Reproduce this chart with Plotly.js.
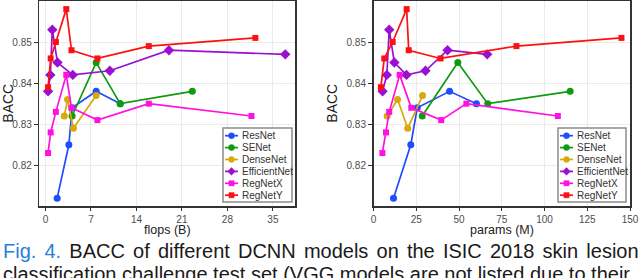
<!DOCTYPE html>
<html>
<head>
<meta charset="utf-8">
<script src="https://cdn.plot.ly/plotly-3.0.1.min.js"></script>
<style>
html,body{margin:0;padding:0;background:#fff;}
#chart{width:640px;height:278px;}
</style>
</head>
<body>
<div id="chart"></div>
<script>
// ---- data ----
const seriesNames = ["ResNet", "SENet", "DenseNet", "EfficientNet", "RegNetX", "RegNetY"];

const resnetFlops  = [1.8, 3.6, 4.1, 7.8, 11.5];
const resnetParams = [11.7, 21.8, 25.6, 44.5, 60.2];
const resnetBacc   = [0.812, 0.825, 0.834, 0.838, 0.835];

const senetFlops  = [4.1, 7.8, 11.5, 22.6];
const senetParams = [28.5, 49.3, 66.8, 115.0];
const senetBacc   = [0.832, 0.845, 0.835, 0.838];

const densenetFlops  = [2.9, 3.4, 4.3, 7.8];
const densenetParams = [8.0, 14.1, 20.0, 28.7];
const densenetBacc   = [0.832, 0.836, 0.829, 0.837];

const effnetFlops  = [0.4, 0.75, 1.05, 1.85, 4.2, 9.9, 19.0, 36.9];
const effnetParams = [5.3, 7.8, 9.2, 12.2, 19.3, 30.4, 43.3, 66.5];
const effnetBacc   = [0.838, 0.842, 0.853, 0.845, 0.842, 0.843, 0.848, 0.847];

const regnetxFlops  = [0.4, 0.8, 1.6, 3.2, 4.0, 8.0, 15.9, 31.7];
const regnetxParams = [5.2, 7.3, 9.2, 15.3, 22.1, 39.6, 54.3, 107.8];
const regnetxBacc   = [0.823, 0.828, 0.833, 0.842, 0.834, 0.831, 0.835, 0.832];

const regnetyFlops  = [0.4, 0.8, 1.6, 3.2, 4.0, 8.0, 15.9, 32.3];
const regnetyParams = [4.3, 6.3, 11.2, 19.4, 20.6, 39.2, 83.6, 145.0];
const regnetyBacc   = [0.839, 0.846, 0.850, 0.858, 0.848, 0.846, 0.849, 0.851];

const yTicks = [0.82, 0.83, 0.84, 0.85];
const flopsTicks = [0, 7, 14, 21, 28, 35];
const paramsTicks = [0, 25, 50, 75, 100, 125, 150];

const xTitleLeft = "flops (B)";
const xTitleRight = "params (M)";
const yTitle = "BACC";
const captionLabel = "Fig. 4.";
const captionLine1 = "BACC of different DCNN models on the ISIC 2018 skin lesion";
const captionLine2 = "classification challenge test set (VGG models are not listed due to their";

// ---- styles ----
const colors  = ["#1f4cff", "#109a10", "#d8a80c", "#9a10d0", "#ff10e0", "#ff1010"];
const symbols = ["circle", "circle", "circle", "diamond", "square", "square"];
const msize   = [7, 7, 7, 8, 6, 6];

const flopsX  = [resnetFlops, senetFlops, densenetFlops, effnetFlops, regnetxFlops, regnetyFlops];
const paramsX = [resnetParams, senetParams, densenetParams, effnetParams, regnetxParams, regnetyParams];
const baccY   = [resnetBacc, senetBacc, densenetBacc, effnetBacc, regnetxBacc, regnetyBacc];

const W = 640, H = 278;
const fx = p => p / W;
const fy = p => 1 - p / H;

const traces = [];
seriesNames.forEach((n, i) => {
  const common = {
    type: "scatter", mode: "lines+markers", name: n, showlegend: false,
    line: {color: colors[i], width: 1.7},
    marker: {color: colors[i], size: msize[i], symbol: symbols[i]},
    cliponaxis: false
  };
  traces.push(Object.assign({}, common, {x: flopsX[i], y: baccY[i], xaxis: "x", yaxis: "y"}));
  traces.push(Object.assign({}, common, {x: paramsX[i], y: baccY[i], xaxis: "x2", yaxis: "y2"}));
});

const font = "Liberation Sans, Arial, sans-serif";
const tickFont = {family: font, size: 10, color: "#4d4d4d"};

function xAxis(domain, range, ticks, anchor) {
  return {
    domain: domain, range: range, anchor: anchor,
    tickmode: "array", tickvals: ticks, ticktext: ticks.map(String),
    showgrid: true, gridcolor: "#ebebeb", gridwidth: 1, zeroline: false,
    showline: true, linecolor: "#333", linewidth: 1.5, mirror: true,
    ticks: "outside", ticklen: 3, tickcolor: "#333", tickwidth: 1,
    tickfont: tickFont
  };
}
function yAxis(domain, anchor) {
  return {
    domain: domain, range: [0.8101, 0.8601], anchor: anchor,
    tickmode: "array", tickvals: yTicks, ticktext: yTicks.map(v => v.toFixed(2)),
    showgrid: true, gridcolor: "#ebebeb", gridwidth: 1, zeroline: false,
    showline: true, linecolor: "#333", linewidth: 1.5, mirror: true,
    ticks: "outside", ticklen: 4, tickcolor: "#333", tickwidth: 1,
    tickfont: tickFont,
    title: {text: yTitle, font: {family: font, size: 14, color: "#222"}, standoff: 5}
  };
}

const yDom = [fy(206), fy(0.5)];
const xDomL = [fx(39.3), fx(295)];
const xDomR = [fx(373.5), fx(630)];

// ---- custom compact legends (layout decoration) ----
const shapes = [];
const annotations = [];
function addLegend(left, right, top, bottom) {
  shapes.push({type: "rect", xref: "paper", yref: "paper",
    x0: fx(left), x1: fx(right), y0: fy(bottom), y1: fy(top),
    line: {color: "#8c8c8c", width: 1.5}, fillcolor: "#ffffff", layer: "above"});
  seriesNames.forEach((n, i) => {
    const yy = top + 7.7 + i * 11.9;
    shapes.push({type: "line", xref: "paper", yref: "paper",
      x0: fx(left + 2), x1: fx(left + 15), y0: fy(yy), y1: fy(yy),
      line: {color: colors[i], width: 1.7}, layer: "above"});
    const cx = fx(left + 8.5), cy = fy(yy);
    const base = {xref: "paper", yref: "paper", xsizemode: "pixel", ysizemode: "pixel",
      xanchor: cx, yanchor: cy, fillcolor: colors[i], line: {color: colors[i], width: 0.5}, layer: "above"};
    if (symbols[i] === "circle") shapes.push(Object.assign({type: "circle", x0: -3, x1: 3, y0: -3, y1: 3}, base));
    else if (symbols[i] === "square") shapes.push(Object.assign({type: "rect", x0: -2.6, x1: 2.6, y0: -2.6, y1: 2.6}, base));
    else shapes.push(Object.assign({type: "path", path: "M0,3.8 L3.8,0 L0,-3.8 L-3.8,0 Z"}, base));
    annotations.push({xref: "paper", yref: "paper", x: fx(left + 17), y: fy(yy),
      xanchor: "left", yanchor: "middle", showarrow: false, text: n,
      font: {family: font, size: 10, color: "#333"}});
  });
}
addLegend(223, 292, 128, 202);
addLegend(558, 626, 128, 202);

// ---- x axis titles ----
annotations.push({xref: "paper", yref: "paper", x: (xDomL[0] + xDomL[1]) / 2, y: fy(230), xanchor: "center", yanchor: "middle",
  showarrow: false, text: xTitleLeft, font: {family: font, size: 12.5, color: "#222"}});
annotations.push({xref: "paper", yref: "paper", x: (xDomR[0] + xDomR[1]) / 2, y: fy(230), xanchor: "center", yanchor: "middle",
  showarrow: false, text: xTitleRight, font: {family: font, size: 12.5, color: "#222"}});

// ---- caption (justified first line) ----
annotations.push({xref: "paper", yref: "paper", x: fx(1), y: fy(251), xanchor: "left", yanchor: "middle",
  showarrow: false,
  text: '<span style="word-spacing:2.6px"><span style="color:#2a80d8">' + captionLabel + '</span> ' + captionLine1 + '</span>',
  font: {family: font, size: 20, color: "#1a1a1a"}});
annotations.push({xref: "paper", yref: "paper", x: fx(0.5), y: fy(274), xanchor: "left", yanchor: "middle",
  showarrow: false, text: captionLine2,
  font: {family: font, size: 20, color: "#1a1a1a"}});

const layout = {
  width: W, height: H,
  margin: {l: 0, r: 0, t: 0, b: 0},
  paper_bgcolor: "#fff", plot_bgcolor: "#fff",
  showlegend: false,
  font: {family: font},
  xaxis: xAxis(xDomL, [-0.95, 38.4], flopsTicks, "y"),
  yaxis: yAxis(yDom, "x"),
  xaxis2: xAxis(xDomR, [0, 150], paramsTicks, "y2"),
  yaxis2: yAxis(yDom, "x2"),
  shapes: shapes,
  annotations: annotations
};

Plotly.newPlot("chart", traces, layout, {staticPlot: true, displayModeBar: false});
</script>
</body>
</html>
